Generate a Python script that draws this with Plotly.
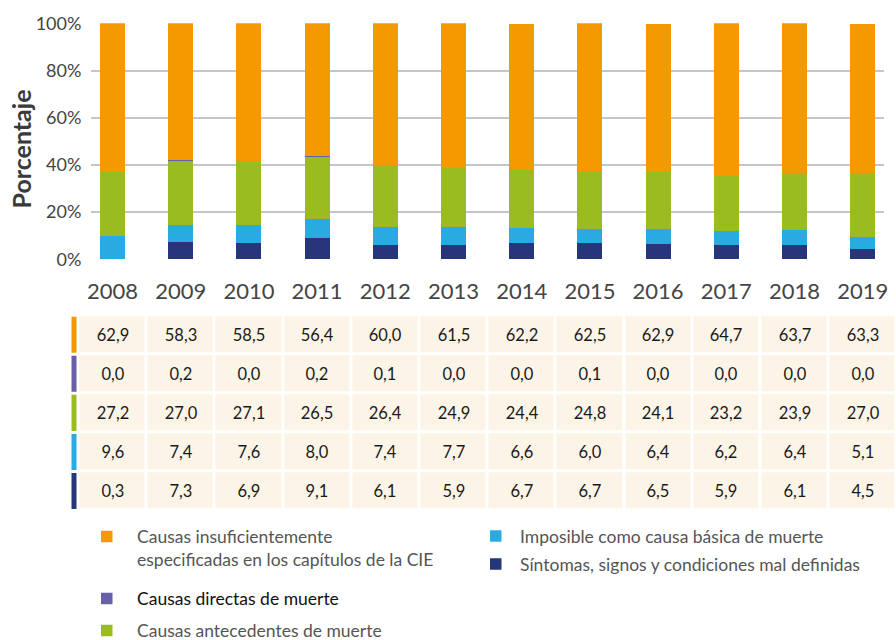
import plotly.graph_objects as go

# ---------------- data ----------------
years = ["2008", "2009", "2010", "2011", "2012", "2013", "2014", "2015", "2016", "2017", "2018", "2019"]

insuficientes = [62.9, 58.3, 58.5, 56.4, 60.0, 61.5, 62.2, 62.5, 62.9, 64.7, 63.7, 63.3]
directas = [0.0, 0.2, 0.0, 0.2, 0.1, 0.0, 0.0, 0.1, 0.0, 0.0, 0.0, 0.0]
antecedentes = [27.2, 27.0, 27.1, 26.5, 26.4, 24.9, 24.4, 24.8, 24.1, 23.2, 23.9, 27.0]
imposible = [9.6, 7.4, 7.6, 8.0, 7.4, 7.7, 6.6, 6.0, 6.4, 6.2, 6.4, 5.1]
sintomas = [0.3, 7.3, 6.9, 9.1, 6.1, 5.9, 6.7, 6.7, 6.5, 5.9, 6.1, 4.5]

series_names = [
    "Causas insuficientemente<br>especificadas en los capítulos de la CIE",
    "Causas directas de muerte",
    "Causas antecedentes de muerte",
    "Imposible como causa básica de muerte",
    "Síntomas, signos y condiciones mal definidas",
]
series_values = [insuficientes, directas, antecedentes, imposible, sintomas]
series_colors = ["#F29A00", "#6560A8", "#9BBC21", "#29ABE2", "#27357A"]

y_ticks = [0, 20, 40, 60, 80, 100]
y_tick_labels = [f"{v}%" for v in y_ticks]

# ---------------- layout helpers (pixel geometry) ----------------
W, H = 896, 640
FONT = "Lato"


def fx(p):
    return p / W


def fy(p):
    return 1 - p / H


C0, STEP = 112.5, 68.2  # pixel centre of first category, category pitch


def cat(p):
    return (p - C0) / STEP


fig = go.Figure()

# stacked bars: bottom to top = reversed table order
for name, vals, col in reversed(list(zip(series_names, series_values, series_colors))):
    fig.add_trace(go.Bar(
        x=years, y=vals, name=name.replace("<br>", " "), marker=dict(color=col, line=dict(width=0)),
        width=0.367, xaxis="x", yaxis="y", showlegend=False, hoverinfo="skip",
    ))

# data table as heatmap
rows = list(range(len(series_names)))
cell_text = [[f"{v:.1f}".replace(".", ",") for v in vals] for vals in series_values]
fig.add_trace(go.Heatmap(
    x=years, y=rows, z=[[1] * len(years) for _ in rows],
    text=cell_text, texttemplate="%{text}",
    textfont=dict(family=FONT, size=16.5, color="#1a1a1a"),
    colorscale=[[0, "#FCF4E6"], [1, "#FCF4E6"]], showscale=False,
    xgap=3, ygap=3, xaxis="x2", yaxis="y2", hoverinfo="skip",
))

shapes = []
annotations = []

# colour stripes at the left of the table rows
half_gap = 1.5 / 39
for r, col in zip(rows, series_colors):
    shapes.append(dict(type="rect", xref="paper", yref="y2",
                       x0=fx(71.5), x1=fx(76.5), y0=r - 0.5 + half_gap, y1=r + 0.5 - half_gap,
                       fillcolor=col, line=dict(width=0), layer="above"))

# custom legend
legend_pos = [  # (square left px, text left px, centre y px)
    (101, 135, 536.5),
    (101, 135, 598.5),
    (101, 135, 630.5),
    (490, 518, 536.0),
    (490, 518, 564.0),
]
legend_text_colors = ["#555555", "#111111", "#555555", "#555555", "#555555"]
for (sx, tx, cy), name, col, tcol in zip(legend_pos, series_names, series_colors, legend_text_colors):
    shapes.append(dict(type="rect", xref="paper", yref="paper",
                       x0=fx(sx), x1=fx(sx + 11.5), y0=fy(cy + 5.75), y1=fy(cy - 5.75),
                       fillcolor=col, line=dict(width=0)))
    if "<br>" in name:
        annotations.append(dict(xref="paper", yref="paper", x=fx(tx), y=fy(cy - 12.5),
                                xanchor="left", yanchor="top", align="left", showarrow=False,
                                text=name, font=dict(family=FONT, size=17.5, color=tcol)))
    else:
        annotations.append(dict(xref="paper", yref="paper", x=fx(tx), y=fy(cy),
                                xanchor="left", yanchor="middle", align="left", showarrow=False,
                                text=name, font=dict(family=FONT, size=17.5, color=tcol)))

annotations.append(dict(xref="paper", yref="paper", x=fx(20), y=fy(149.5), textangle=-90,
                        xanchor="center", yanchor="middle", showarrow=False,
                        text="<b>Porcentaje</b>", font=dict(family=FONT, size=25, color="#3a3a3a")))

fig.update_layout(
    template="none",
    width=W, height=H, margin=dict(l=0, r=0, t=0, b=0, pad=0, autoexpand=False),
    paper_bgcolor="white", plot_bgcolor="white",
    barmode="stack",
    font=dict(family=FONT, color="#444444"),
    xaxis=dict(domain=[fx(91), fx(884)], range=[cat(91), cat(884)], type="category",
               categoryorder="array", categoryarray=years, automargin=False,
               showgrid=False, zeroline=False, showline=False,
               ticks="outside", ticklen=12, tickcolor="rgba(0,0,0,0)",
               tickfont=dict(family=FONT, size=22, color="#444444")),
    yaxis=dict(domain=[fy(259.3), fy(23.3)], range=[0, 100], tickmode="array",
               tickvals=y_ticks, ticktext=y_tick_labels, automargin=False,
               showgrid=True, gridcolor="#C6C6C6", gridwidth=1.5,
               zeroline=False, showline=False,
               ticks="outside", ticklen=5, tickcolor="rgba(0,0,0,0)",
               tickfont=dict(family=FONT, size=18, color="#444444")),
    xaxis2=dict(domain=[fx(70), 1.0], range=[cat(70), cat(896)], type="category",
                categoryorder="array", categoryarray=years, anchor="y2", visible=False, automargin=False),
    yaxis2=dict(domain=[fy(510.5), fy(315.2)], range=[len(rows) - 0.5, -0.5], anchor="x2",
                visible=False, automargin=False),
    shapes=shapes, annotations=annotations, showlegend=False,
)

fig.write_html("out.html", config={"displayModeBar": False},
               post_script="document.body.style.margin='0px';")
